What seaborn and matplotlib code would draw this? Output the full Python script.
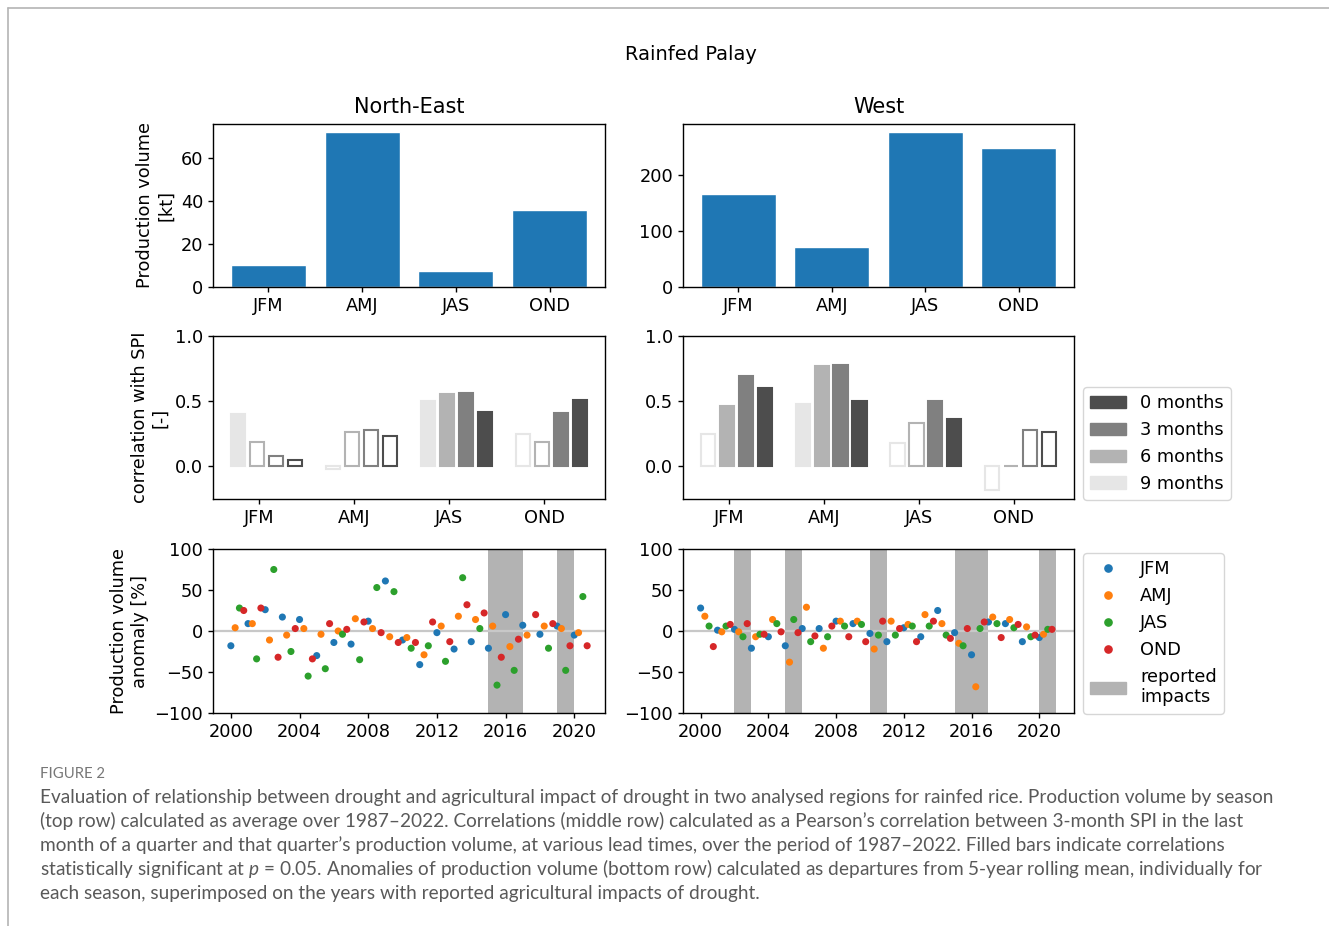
import numpy as np
import pandas as pd
import matplotlib
matplotlib.use("Agg")
import matplotlib.pyplot as plt
from matplotlib.lines import Line2D
from matplotlib.patches import Patch
import seaborn as sns

# ---------------------------------------------------------------- data
seasons = ["JFM", "AMJ", "JAS", "OND"]
regions = ["North-East", "West"]

# mean production volume by season [kt]
prod_ne = [10.2, 72.0, 7.4, 35.5]
prod_w = [166, 71, 276, 248]

# correlation with SPI per lead time, values listed JFM, AMJ, JAS, OND
lead_labels = ["9 months", "6 months", "3 months", "0 months"]
corr_ne_9m = [0.40, -0.02, 0.50, 0.25]
corr_ne_6m = [0.19, 0.26, 0.555, 0.19]
corr_ne_3m = [0.08, 0.28, 0.565, 0.41]
corr_ne_0m = [0.05, 0.235, 0.42, 0.51]
sig_ne_9m = [True, False, True, False]
sig_ne_6m = [False, False, True, False]
sig_ne_3m = [False, False, True, True]
sig_ne_0m = [False, False, True, True]

corr_w_9m = [0.25, 0.48, 0.18, -0.18]
corr_w_6m = [0.46, 0.77, 0.33, 0.005]
corr_w_3m = [0.69, 0.78, 0.50, 0.28]
corr_w_0m = [0.60, 0.50, 0.36, 0.265]
sig_w_9m = [False, True, False, False]
sig_w_6m = [True, True, False, False]
sig_w_3m = [True, True, True, False]
sig_w_0m = [True, True, True, False]

# production volume anomaly [%] per year (2000-2020)
years = list(range(2000, 2021))
anom_ne_jfm = [-18, 9, 26, 17, 14, -30, -14, -16, 12, 61, -11, -41, -2, -22, -13, -21, 20, 7, -4, 6, -5]
anom_ne_amj = [4, 9, -11, -5, 3, -4, 0, 15, 3, -7, -8, -29, 6, 18, 14, 6, -19, -5, 6, 3, -2]
anom_ne_jas = [28, -34, 75, -25, -55, -46, -4, -35, 53, 48, -21, -18, -37, 65, 3, -66, -48, np.nan, -21, -48, 42]
anom_ne_ond = [25, 28, -32, 3, -34, 9, 2, 11, -2, -14, -14, 11, -13, 32, 22, -32, -10, 20, 9, -18, -18]

anom_w_jfm = [28, 1, 2, -21, -7, -18, 3, 3, 12, 9, -3, -13, 4, -7, 25, -2, -29, 11, 9, -13, -8]
anom_w_amj = [18, -1, -1, -7, 14, -38, 29, -21, 12, 12, -22, 12, 8, 20, 9, -15, -68, 17, 14, 5, -4]
anom_w_jas = [6, 6, -7, -4, 9, 14, -13, -7, 6, 8, -5, -5, 6, 6, -5, -18, 3, 9, 4, -7, 2]
anom_w_ond = [-19, 8, 9, -4, -1, -2, -6, 6, -7, -13, 12, 3, -13, 12, -9, 3, 11, -8, 8, -5, 2]

# years with reported agricultural impacts of drought
impact_ne_start = [2015, 2019]
impact_ne_end = [2017, 2020]
impact_w_start = [2002, 2005, 2010, 2015, 2020]
impact_w_end = [2003, 2006, 2011, 2017, 2021]

caption_head = "FIGURE 2"
caption_lines = [
    "Evaluation of relationship between drought and agricultural impact of drought in two analysed regions for rainfed rice. Production volume by season",
    "(top row) calculated as average over 1987–2022. Correlations (middle row) calculated as a Pearson’s correlation between 3-month SPI in the last",
    "month of a quarter and that quarter’s production volume, at various lead times, over the period of 1987–2022. Filled bars indicate correlations",
    "statistically significant at $p$ = 0.05. Anomalies of production volume (bottom row) calculated as departures from 5-year rolling mean, individually for",
    "each season, superimposed on the years with reported agricultural impacts of drought.",
]

# ---------------------------------------------------------------- style
sns.set_theme(style="ticks")
plt.rcParams.update({
    "font.family": ["DejaVu Sans"],
    "font.size": 12.8,
    "axes.labelsize": 12.8,
    "xtick.labelsize": 12.8,
    "ytick.labelsize": 12.8,
    "legend.fontsize": 12.8,
    "axes.linewidth": 1.0,
    "axes.edgecolor": "black",
    "text.color": "black",
    "axes.labelcolor": "black",
    "xtick.color": "black",
    "ytick.color": "black",
    "xtick.major.size": 3.5,
    "ytick.major.size": 3.5,
    "xtick.major.width": 1.0,
    "ytick.major.width": 1.0,
    "mathtext.fontset": "custom",
    "mathtext.rm": "Lato",
    "mathtext.it": "Lato:italic",
})

W, H = 1329, 926
fig = plt.figure(figsize=(W / 100, H / 100), dpi=100)


def fx(px):
    return px / W


def fy(py):
    return 1 - py / H


def add_axes(left, top, right, bottom):
    return fig.add_axes([fx(left), fy(bottom), (right - left) / W, (bottom - top) / H])


col_x = [(213, 605), (683, 1074)]
row_y = [(124, 287), (336, 499), (549, 713)]
axes = [[add_axes(cx[0], ry[0], cx[1], ry[1]) for cx in col_x] for ry in row_y]

season_colors = dict(zip(seasons, ["#1f77b4", "#ff7f0e", "#2ca02c", "#d62728"]))
lead_colors = ["#e6e6e6", "#b3b3b3", "#808080", "#4d4d4d"]
span_color = "#b3b3b3"

# ---------------------------------------------------------------- top row: production volume
df_prod = pd.DataFrame({
    "region": [r for r in regions for _ in seasons],
    "season": seasons * 2,
    "volume": prod_ne + prod_w,
})
yticks_top = [[0, 20, 40, 60], [0, 100, 200]]
for j, reg in enumerate(regions):
    ax = axes[0][j]
    sns.barplot(data=df_prod[df_prod["region"] == reg], x="season", y="volume",
                color="#1f77b4", saturation=1, width=0.8, errorbar=None, ax=ax)
    ax.set_xlim(-0.59, 3.59)
    ax.set_yticks(yticks_top[j])
    ax.set_xlabel("")
    ax.set_ylabel("")
    ax.set_title(reg, fontsize=15, pad=8)
axes[0][0].set_ylabel("Production volume\n[kt]")

# ---------------------------------------------------------------- middle row: correlation with SPI
corr_sets = [
    ([corr_ne_9m, corr_ne_6m, corr_ne_3m, corr_ne_0m], [sig_ne_9m, sig_ne_6m, sig_ne_3m, sig_ne_0m]),
    ([corr_w_9m, corr_w_6m, corr_w_3m, corr_w_0m], [sig_w_9m, sig_w_6m, sig_w_3m, sig_w_0m]),
]
offsets = [-0.3, -0.1, 0.1, 0.3]
for j, (corrs, sigs) in enumerate(corr_sets):
    ax = axes[1][j]
    base = np.arange(len(seasons))
    for vals, flags, col, off in zip(corrs, sigs, lead_colors, offsets):
        for x, v, s in zip(base + off, vals, flags):
            ax.bar(x, v, width=0.15, align="edge",
                   facecolor=col if s else "none", edgecolor=col, linewidth=1.5)
    ax.set_xticks(base)
    ax.set_xticklabels(seasons)
    ax.set_xlim(-0.4875, 3.6375)
    ax.set_ylim(-0.25, 1.0)
    ax.set_yticks([0.0, 0.5, 1.0])
axes[1][0].set_ylabel("correlation with SPI\n[-]")
lead_handles = [Patch(facecolor=c, edgecolor=c) for c in lead_colors[::-1]]
axes[1][1].legend(lead_handles, lead_labels[::-1], loc="lower left",
                  bbox_to_anchor=(1 + 9 / 391, -1 / 163), borderaxespad=0)

# ---------------------------------------------------------------- bottom row: anomalies
quarter_offset = dict(zip(seasons, [0.0, 0.25, 0.5, 0.75]))
anom_sets = [
    ([anom_ne_jfm, anom_ne_amj, anom_ne_jas, anom_ne_ond], impact_ne_start, impact_ne_end),
    ([anom_w_jfm, anom_w_amj, anom_w_jas, anom_w_ond], impact_w_start, impact_w_end),
]
for j, (series, starts, ends) in enumerate(anom_sets):
    ax = axes[2][j]
    rows = []
    for s, vals in zip(seasons, series):
        for y, v in zip(years, vals):
            rows.append({"time": y + quarter_offset[s], "season": s, "anomaly": v})
    df = pd.DataFrame(rows).dropna()
    for a, b in zip(starts, ends):
        ax.axvspan(a, b, color=span_color, lw=0, zorder=0)
    ax.axhline(0, color="#c8c8c8", lw=1.6, zorder=1)
    sns.scatterplot(data=df, x="time", y="anomaly", hue="season", hue_order=seasons,
                    palette=season_colors, s=26, linewidth=0, legend=False, ax=ax, zorder=3)
    ax.set_xlim(1998.96, 2021.79 if j == 0 else 2022.05)
    ax.set_ylim(-100, 100)
    ax.set_yticks([-100, -50, 0, 50, 100])
    ax.set_xticks(list(range(2000, 2021, 4)))
    ax.set_xlabel("")
    ax.set_ylabel("")
axes[2][0].set_ylabel("Production volume\nanomaly [%]")
season_handles = [Line2D([], [], marker="o", ls="", color=season_colors[s], markersize=5.2)
                  for s in seasons]
axes[2][1].legend(season_handles + [Patch(color=span_color)], seasons + ["reported\nimpacts"],
                  loc="upper left", bbox_to_anchor=(1 + 9 / 391, 1 - 4 / 164), borderaxespad=0)

# ---------------------------------------------------------------- titles, frame and caption
fig.suptitle("Rainfed Palay", x=fx(691), y=fy(54), va="center", fontsize=14)

frame_col = "#b4b4b4"
fig.add_artist(Line2D([fx(8), 1], [fy(8), fy(8)], color=frame_col, lw=1.2))
fig.add_artist(Line2D([fx(8), fx(8)], [fy(8), 0], color=frame_col, lw=1.2))

renderer = fig.canvas.get_renderer()
cap_font = "Lato"
cap_color = "#595959"
probe = fig.text(0, 0, caption_lines[0], fontsize=12, family=cap_font)
cap_size = 12 * 1235 / probe.get_window_extent(renderer).width
probe.remove()

fig.text(fx(40), fy(778), caption_head, family=cap_font, fontsize=cap_size * 0.78,
         color="#777777", va="baseline")
for i, line in enumerate(caption_lines):
    fig.text(fx(40), fy(803 + 24 * i), line, family=cap_font, fontsize=cap_size,
             color=cap_color, va="baseline", math_fontfamily="custom")

fig.savefig("out.png", dpi=100)
